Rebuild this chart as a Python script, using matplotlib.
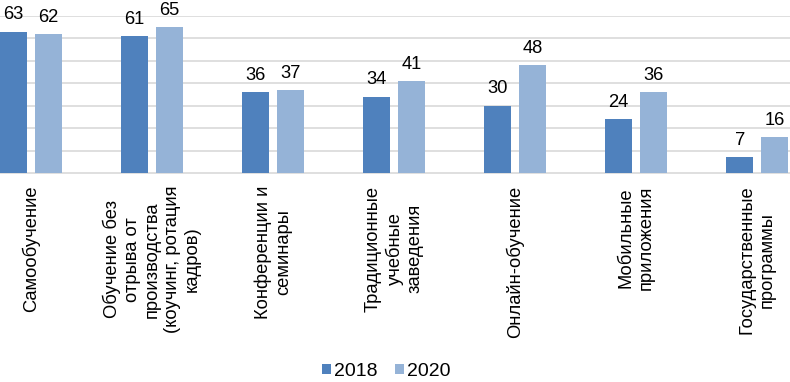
import matplotlib
matplotlib.use("Agg")
import matplotlib.pyplot as plt
import numpy as np

plt.rcParams['font.family'] = ['Liberation Sans', 'DejaVu Sans']

categories = [
    "Самообучение",
    "Обучение без\nотрыва от\nпроизводства\n(коучинг, ротация\nкадров)",
    "Конференции и\nсеминары",
    "Традиционные\nучебные\nзаведения",
    "Онлайн-обучение",
    "Мобильные\nприложения",
    "Государственные\nпрограммы",
]
series_names = ["2018", "2020"]
values_2018 = [63, 61, 36, 34, 30, 24, 7]
values_2020 = [62, 65, 37, 41, 48, 36, 16]

colors = ["#4F81BD", "#95B3D7"]
FS = 13.2

fig = plt.figure(figsize=(7.9, 3.82), dpi=100)
ax = fig.add_axes([0.0, 0.547, 1.0, 0.411])

x = np.arange(len(categories))
w = 0.223
off = 0.145
b1 = ax.bar(x - off, values_2018, w, color=colors[0], label=series_names[0], zorder=3)
b2 = ax.bar(x + off, values_2020, w, color=colors[1], label=series_names[1], zorder=3)

for bars, vals in ((b1, values_2018), (b2, values_2020)):
    for r, v in zip(bars, vals):
        ax.annotate(str(v), (r.get_x() + r.get_width() / 2, v), xytext=(0, 6),
                    textcoords="offset points", ha="center", va="bottom",
                    fontsize=FS, color="#000000", annotation_clip=False)

ax.set_xlim(-0.256, 6.27)
ax.set_ylim(0, 70)
ax.set_yticks(np.arange(10, 71, 10))
ax.yaxis.grid(True, color="#D9D9D9", linewidth=1.2, zorder=0)
ax.set_yticklabels([])
ax.tick_params(axis='y', length=0)
ax.set_xticks(x)
ax.set_xticklabels(categories, rotation=90, ha="center", va="top",
                   multialignment="center", fontsize=FS, linespacing=1.22)
ax.tick_params(axis='x', length=0, pad=9)
for s in ("left", "right", "top"):
    ax.spines[s].set_visible(False)
ax.spines["bottom"].set_color("#D9D9D9")
ax.spines["bottom"].set_linewidth(1.2)

fig.legend(handles=[b1, b2], labels=series_names, loc="center",
           bbox_to_anchor=(0.489, 0.028), ncol=2, frameon=False, fontsize=14,
           handlelength=0.45, handleheight=0.45, handletextpad=0.15,
           columnspacing=0.9, borderpad=0.2)

fig.savefig("out.png", dpi=100)
